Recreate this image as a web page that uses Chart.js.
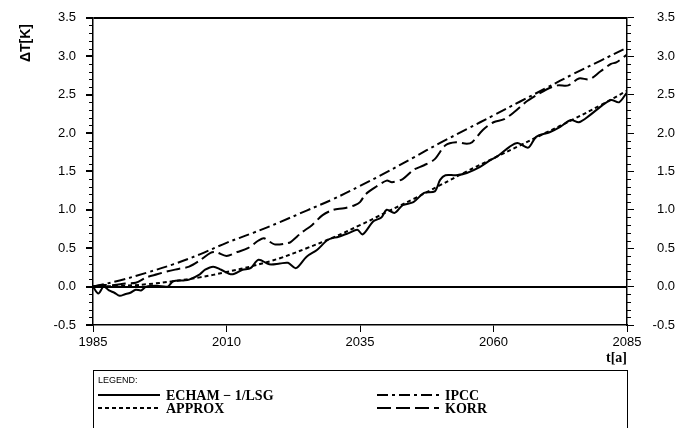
<!DOCTYPE html>
<html>
<head>
<meta charset="utf-8">
<script src="https://cdn.jsdelivr.net/npm/chart.js@4/dist/chart.umd.min.js"></script>
<style>
  html, body { margin: 0; padding: 0; background: #fff; }
  #wrap { width: 691px; height: 428px; position: relative; }
</style>
</head>
<body>
<div id="wrap"><canvas id="chart" width="691" height="428"></canvas></div>
<script>
// data (years, deltaT in K)
const smoothYears = [1985, 1990, 1995, 2000, 2005, 2010, 2015, 2020, 2025, 2030, 2035,
                     2040, 2045, 2050, 2055, 2060, 2065, 2070, 2075, 2080, 2085];
const ipcc = [0.00, 0.08, 0.18, 0.29, 0.42, 0.57, 0.70, 0.84, 0.99, 1.14, 1.31,
              1.49, 1.68, 1.87, 2.05, 2.23, 2.41, 2.59, 2.77, 2.94, 3.11];
const approx = [0.00, 0.01, 0.03, 0.07, 0.12, 0.19, 0.27, 0.37, 0.50, 0.64, 0.80,
                0.97, 1.14, 1.32, 1.50, 1.67, 1.84, 2.01, 2.18, 2.36, 2.55];

const korrYears = [1985, 1987, 1989, 1991, 1993, 1995, 1997, 1999, 2001, 2003, 2005, 2007, 2008,
                   2010, 2012, 2014, 2016, 2017, 2019, 2021, 2022, 2024, 2026, 2028, 2030, 2032,
                   2034, 2035, 2036, 2038, 2040, 2041, 2043, 2045, 2047, 2049, 2051, 2053, 2055,
                   2056, 2058, 2060, 2062, 2064, 2066, 2068, 2070, 2072, 2074, 2076, 2078, 2080,
                   2082, 2083, 2085];
const korr = [0.00, 0.02, 0.02, 0.04, 0.05, 0.12, 0.16, 0.20, 0.23, 0.26, 0.34, 0.44, 0.45,
              0.40, 0.45, 0.50, 0.60, 0.63, 0.55, 0.56, 0.58, 0.70, 0.80, 0.93, 1.00, 1.02,
              1.06, 1.10, 1.20, 1.30, 1.38, 1.36, 1.40, 1.52, 1.58, 1.66, 1.84, 1.88, 1.86,
              1.88, 2.04, 2.14, 2.18, 2.28, 2.40, 2.49, 2.57, 2.62, 2.62, 2.71, 2.70, 2.80,
              2.90, 2.92, 3.02];

const echamYears = [1985, 1986, 1987, 1988, 1989, 1990, 1991, 1992, 1993, 1994, 1995, 1997, 1999,
                    2000, 2002, 2003, 2005, 2006, 2007.5, 2009, 2011, 2013, 2014.5, 2016, 2018,
                    2020, 2021.5, 2023, 2025, 2027, 2029, 2031, 2033, 2034.5, 2035.5, 2037.5,
                    2039, 2040, 2041.5, 2043, 2045, 2047, 2049, 2050, 2051, 2053, 2055, 2057.5,
                    2059.5, 2061, 2063, 2064.5, 2066.5, 2068, 2070.5, 2072.5, 2074.5, 2076, 2078,
                    2080, 2082, 2083.5, 2085];
const echam = [0.00, -0.09, 0.00, -0.05, -0.08, -0.12, -0.10, -0.08, -0.04, -0.05, 0.00, 0.01, 0.00,
               0.07, 0.08, 0.09, 0.16, 0.22, 0.26, 0.22, 0.16, 0.22, 0.24, 0.35, 0.29,
               0.30, 0.31, 0.24, 0.39, 0.48, 0.61, 0.65, 0.70, 0.74, 0.68, 0.85,
               0.90, 1.00, 0.96, 1.06, 1.10, 1.22, 1.24, 1.39, 1.45, 1.45, 1.48, 1.56,
               1.65, 1.71, 1.82, 1.87, 1.81, 1.95, 2.01, 2.08, 2.17, 2.14, 2.23,
               2.34, 2.43, 2.40, 2.53];

const xTicks = [1985, 2010, 2035, 2060, 2085];
const legendItems = [
  { label: 'ECHAM − 1/LSG', dash: [] },
  { label: 'APPROX', dash: [4, 3] },
  { label: 'IPCC', dash: [11, 4, 3, 4] },
  { label: 'KORR', dash: [14, 5] }
];

const pts = (xs, ys) => xs.map((x, i) => ({ x: x, y: ys[i] }));
const tickFont = { family: 'Liberation Sans, Arial, sans-serif', size: 13 };

// minor ticks on both y axes, y title, legend box and t[a] label
const extras = {
  id: 'extras',
  afterDraw(chart) {
    const ctx = chart.ctx;
    const yl = chart.scales.y, yr = chart.scales.y2, xs = chart.scales.x;
    ctx.save();
    ctx.strokeStyle = '#000';
    ctx.lineWidth = 1;
    for (let i = -5; i <= 35; i++) {
      if (i % 5 === 0) continue;
      const py = Math.round(yl.getPixelForValue(i / 10)) + 0.5;
      ctx.beginPath();
      ctx.moveTo(yl.right - 4, py); ctx.lineTo(yl.right, py);
      ctx.moveTo(yr.left, py); ctx.lineTo(yr.left + 4, py);
      ctx.stroke();
    }
    ctx.fillStyle = '#000';

    // y title
    ctx.save();
    ctx.translate(26, 43);
    ctx.rotate(-Math.PI / 2);
    ctx.font = 'bold 14px "Liberation Sans", sans-serif';
    ctx.textAlign = 'center';
    ctx.textBaseline = 'middle';
    ctx.fillText('ΔT[K]', 0, 0);
    ctx.restore();

    // t[a]
    ctx.font = 'bold 14px "Liberation Serif", serif';
    ctx.textAlign = 'right';
    ctx.textBaseline = 'middle';
    ctx.fillText('t[a]', xs.right, 358);

    // legend box
    const bx = xs.left, bw = xs.right - xs.left, by = 370;
    ctx.lineWidth = 1;
    ctx.strokeRect(bx + 0.5, by + 0.5, bw, 80);
    ctx.font = '9px "Liberation Sans", sans-serif';
    ctx.textAlign = 'left';
    ctx.fillText('LEGEND:', bx + 5, by + 11);
    ctx.font = 'bold 14px "Liberation Serif", serif';
    legendItems.forEach((it, i) => {
      const col = Math.floor(i / 2), row = i % 2;
      const x0 = col === 0 ? bx + 5 : bx + 284;
      const ly = by + 25 + row * 13;
      ctx.lineWidth = 2;
      ctx.setLineDash(it.dash);
      ctx.beginPath();
      ctx.moveTo(x0, ly); ctx.lineTo(x0 + 62, ly);
      ctx.stroke();
      ctx.setLineDash([]);
      ctx.fillText(it.label, x0 + 68, ly + 1);
    });
    ctx.restore();
  }
};

new Chart(document.getElementById('chart'), {
  type: 'line',
  data: {
    datasets: [
      { label: 'ECHAM-1/LSG', data: pts(echamYears, echam), borderDash: [], tension: 0.3 },
      { label: 'APPROX', data: pts(smoothYears, approx), borderDash: [4, 3], tension: 0.4 },
      { label: 'IPCC', data: pts(smoothYears, ipcc), borderDash: [11, 4, 3, 4], tension: 0.4 },
      { label: 'KORR', data: pts(korrYears, korr), borderDash: [14, 5], tension: 0.3 }
    ].map(d => Object.assign(d, { borderColor: '#000', borderWidth: 2, pointRadius: 0, fill: false }))
  },
  options: {
    responsive: false,
    animation: false,
    layout: { padding: { top: 17, left: 0, right: 16, bottom: 0 } },
    plugins: { legend: { display: false }, tooltip: { enabled: false } },
    scales: {
      x: {
        type: 'linear', min: 1985, max: 2085,
        afterBuildTicks: s => { s.ticks = xTicks.map(v => ({ value: v })); },
        ticks: { color: '#000', font: tickFont, padding: 3, maxRotation: 0, callback: v => String(v) },
        grid: { drawOnChartArea: false, tickLength: 7, tickColor: '#000' },
        border: { color: '#000', width: 1.5 },
        afterFit: s => { s.height = 103; }
      },
      y: {
        position: 'left', min: -0.5, max: 3.5,
        ticks: { stepSize: 0.5, color: '#000', font: tickFont, padding: 10, callback: v => v.toFixed(1) },
        grid: {
          tickLength: 7, tickColor: '#000', lineWidth: 2,
          color: c => (c.tick && (c.tick.value === 0 || c.tick.value === 3.5)) ? '#000' : 'rgba(0,0,0,0)'
        },
        border: { color: '#000', width: 1.5 },
        afterFit: s => { s.width = 93; }
      },
      y2: {
        position: 'right', min: -0.5, max: 3.5,
        ticks: { stepSize: 0.5, color: '#000', font: tickFont, padding: 7, crossAlign: 'far', callback: v => v.toFixed(1) },
        grid: { drawOnChartArea: false, tickLength: 7, tickColor: '#000' },
        border: { color: '#000', width: 1.5 },
        afterFit: s => { s.width = 48; }
      }
    }
  },
  plugins: [extras]
});
</script>
</body>
</html>
